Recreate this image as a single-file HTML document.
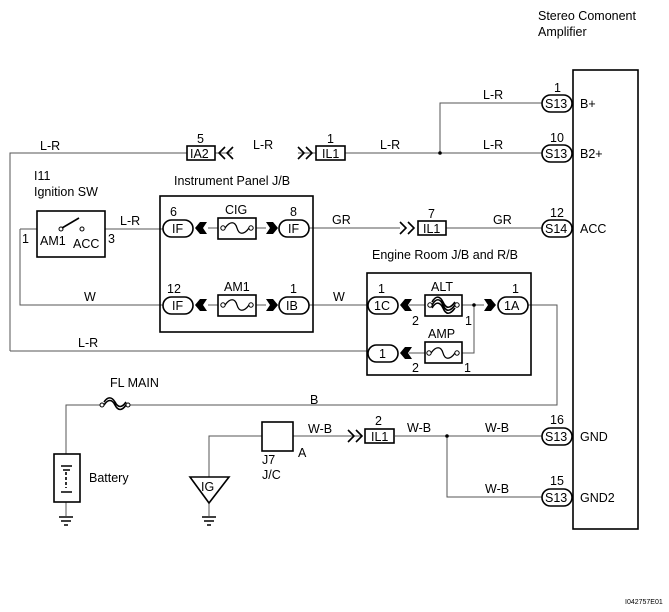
<!DOCTYPE html>
<html><head><meta charset="utf-8"><style>
html,body{margin:0;padding:0;background:#fff}
svg{display:block}
text{font-family:"Liberation Sans",Arial,sans-serif;font-size:12.5px;fill:#000}
.w{stroke:#555;stroke-width:1;fill:none}
.b{stroke:#000;stroke-width:1.6;fill:#fff}
.t{stroke:#000;stroke-width:1.6;fill:none}
</style></head><body>
<svg width="669" height="612" viewBox="0 0 669 612">
<defs>
<g id="fch"><path d="M0,0 L5,-6 L12,-6 L8,0 L12,6 L5,6 Z" fill="#000"/></g>
<g id="fchr"><path d="M12,0 L7,-6 L0,-6 L4,0 L0,6 L7,6 Z" fill="#000"/></g>
<g id="fuse"><circle cx="5" cy="0" r="2.2" fill="#fff" stroke="#000"/><circle cx="33" cy="0" r="2.2" fill="#fff" stroke="#000"/><path d="M7,0 C12,-7 17,-7 19,0 C21,7 26,7 31,0" fill="none" stroke="#000" stroke-width="1.3"/></g>
</defs>

<text x="538" y="20">Stereo Comonent</text>
<text x="538" y="36">Amplifier</text>
<rect x="573" y="70" width="65" height="459" class="t"/>

<path class="w" d="M10,351 V153 H187 M215,153 H232 M298,153 H316 M345,153 H542 M440,153 V103 H542"/>
<path class="w" d="M20,229 H37 M105,229 H163 M20,229 V305 H163"/>
<path class="w" d="M10,351 H368 M309,228 H400 M446,228 H542 M309,305 H368"/>
<path class="w" d="M208,228 H218 M256,228 H266 M208,305 H218 M256,305 H266"/>
<path class="w" d="M409,305 H425 M462,305 H484 M474,305 V353 H462 M409,353 H425"/>
<path class="w" d="M527,305 H557 V405 H130 M100,405 H66 V454 M66,502 V516"/>
<path class="w" d="M209,477 V436 H262 M293,436 H362 M395,436 H542 M447,436 V497 H542 M209,503 V516"/>
<circle cx="440" cy="153" r="1.8"/><circle cx="474" cy="305" r="1.8"/><circle cx="447" cy="436" r="1.8"/>

<rect x="187" y="146" width="28" height="14" class="b"/><text x="190" y="158">IA2</text><text x="197" y="143">5</text>
<path d="M225,147 L219,153 L225,159 M233,147 L227,153 L233,159" class="t" stroke-width="1.3"/>
<path d="M298,147 L304,153 L298,159 M306,147 L312,153 L306,159" class="t" stroke-width="1.3"/>
<rect x="316" y="146" width="29" height="14" class="b"/><text x="322" y="158">IL1</text><text x="327" y="143">1</text>
<text x="40" y="150">L-R</text><text x="253" y="149">L-R</text><text x="380" y="149">L-R</text>
<text x="483" y="149">L-R</text><text x="483" y="99">L-R</text>

<rect x="542" y="95" width="30" height="17" rx="8.5" class="b"/><text x="545" y="108">S13</text><text x="554" y="92">1</text><text x="580" y="108">B+</text>
<rect x="542" y="145" width="30" height="17" rx="8.5" class="b"/><text x="545" y="158">S13</text><text x="550" y="142">10</text><text x="580" y="158">B2+</text>
<rect x="542" y="220" width="30" height="17" rx="8.5" class="b"/><text x="545" y="233">S14</text><text x="550" y="217">12</text><text x="580" y="233">ACC</text>
<rect x="542" y="428" width="30" height="17" rx="8.5" class="b"/><text x="545" y="441">S13</text><text x="550" y="424">16</text><text x="580" y="441">GND</text>
<rect x="542" y="489" width="30" height="17" rx="8.5" class="b"/><text x="545" y="502">S13</text><text x="550" y="485">15</text><text x="580" y="502">GND2</text>

<text x="34" y="180">I11</text><text x="34" y="196">Ignition SW</text>
<rect x="37" y="211" width="68" height="46" class="t"/>
<text x="22" y="243">1</text><text x="108" y="243">3</text>
<text x="40" y="245">AM1</text><text x="73" y="248">ACC</text>
<circle cx="61" cy="229" r="2" fill="#fff" stroke="#000"/><circle cx="82" cy="229" r="2" fill="#fff" stroke="#000"/>
<path d="M62,228 L79,218" class="t" stroke-width="1.3"/>
<text x="120" y="225">L-R</text><text x="84" y="301">W</text><text x="78" y="347">L-R</text>

<text x="174" y="185">Instrument Panel J/B</text>
<rect x="160" y="196" width="153" height="136" class="t"/>
<rect x="163" y="220" width="30" height="17" rx="8.5" class="b"/><text x="172" y="233">IF</text><text x="170" y="216">6</text>
<use href="#fch" x="195" y="228"/>
<rect x="218" y="218" width="38" height="21" class="t"/><use href="#fuse" x="218" y="228"/><text x="225" y="214">CIG</text>
<use href="#fchr" x="266" y="228"/>
<rect x="279" y="220" width="30" height="17" rx="8.5" class="b"/><text x="288" y="233">IF</text><text x="290" y="216">8</text>
<rect x="163" y="297" width="30" height="17" rx="8.5" class="b"/><text x="172" y="310">IF</text><text x="167" y="293">12</text>
<use href="#fch" x="195" y="305"/>
<rect x="218" y="295" width="38" height="21" class="t"/><use href="#fuse" x="218" y="305"/><text x="224" y="291">AM1</text>
<use href="#fchr" x="266" y="305"/>
<rect x="279" y="297" width="30" height="17" rx="8.5" class="b"/><text x="286" y="310">IB</text><text x="290" y="293">1</text>
<text x="332" y="224">GR</text><text x="333" y="301">W</text>

<path d="M400,222 L406,228 L400,234 M408,222 L414,228 L408,234" class="t" stroke-width="1.3"/>
<rect x="418" y="221" width="28" height="14" class="b"/><text x="423" y="233">IL1</text><text x="428" y="218">7</text>
<text x="493" y="224">GR</text>

<text x="372" y="259">Engine Room J/B and R/B</text>
<rect x="367" y="273" width="164" height="102" class="t"/>
<rect x="368" y="297" width="30" height="17" rx="8.5" class="b"/><text x="374" y="310">1C</text><text x="378" y="293">1</text>
<use href="#fch" x="400" y="305"/>
<rect x="425" y="295" width="37" height="21" class="t"/>
<g><circle cx="430" cy="305" r="2.2" fill="#fff" stroke="#000"/><circle cx="457" cy="305" r="2.2" fill="#fff" stroke="#000"/><path d="M432,305 C436,298 440,298 443,305 C446,312 450,312 455,305 M432,302 C436,295 440,296 443,302 C446,309 450,309 455,302 M432,308 C436,301 440,302 443,308 C446,315 450,315 455,308" class="t" stroke-width="1"/></g>
<text x="431" y="291">ALT</text>
<text x="412" y="325">2</text><text x="465" y="325">1</text>
<use href="#fchr" x="484" y="305"/>
<rect x="498" y="297" width="30" height="17" rx="8.5" class="b"/><text x="504" y="310">1A</text><text x="512" y="293">1</text>
<rect x="368" y="345" width="30" height="17" rx="8.5" class="b"/><text x="379" y="358">1</text>
<use href="#fch" x="400" y="353"/>
<rect x="425" y="342" width="37" height="21" class="t"/><use href="#fuse" x="424" y="353"/><text x="428" y="338">AMP</text>
<text x="412" y="372">2</text><text x="464" y="372">1</text>

<text x="110" y="387">FL MAIN</text>
<circle cx="102" cy="405" r="2" fill="#fff" stroke="#000"/><circle cx="128" cy="405" r="2" fill="#fff" stroke="#000"/>
<path d="M104,405 C108,399 112,399 115,405 C118,411 122,411 126,405 M104,402 C108,396 112,397 115,402 C118,408 122,408 126,402" class="t" stroke-width="1.2"/>
<text x="310" y="404">B</text>
<rect x="54" y="454" width="26" height="48" class="t"/>
<path d="M61,466 H72 M63,470 H70 M61,492 H72" class="t" stroke-width="1.2"/>
<path d="M66,472 V488" class="t" stroke-width="1" stroke-dasharray="3,2"/>
<text x="89" y="482">Battery</text>
<path d="M59,517 H73 M61,521 H71 M64,525 H68" class="t" stroke-width="1.2"/>

<rect x="262" y="422" width="31" height="29" class="t"/>
<text x="262" y="464">J7</text><text x="262" y="479">J/C</text><text x="298" y="457">A</text>
<text x="308" y="433">W-B</text>
<path d="M190,477 L229,477 L209,503 Z" class="t"/><text x="201" y="491">IG</text>
<path d="M202,517 H216 M204,521 H214 M207,525 H211" class="t" stroke-width="1.2"/>
<path d="M348,430 L354,436 L348,442 M356,430 L362,436 L356,442" class="t" stroke-width="1.3"/>
<rect x="365" y="429" width="29" height="14" class="b"/><text x="371" y="441">IL1</text><text x="375" y="425">2</text>
<text x="407" y="432">W-B</text><text x="485" y="432">W-B</text><text x="485" y="493">W-B</text>

<text x="625" y="604" style="font-size:7px">I042757E01</text>
</svg>
</body></html>
